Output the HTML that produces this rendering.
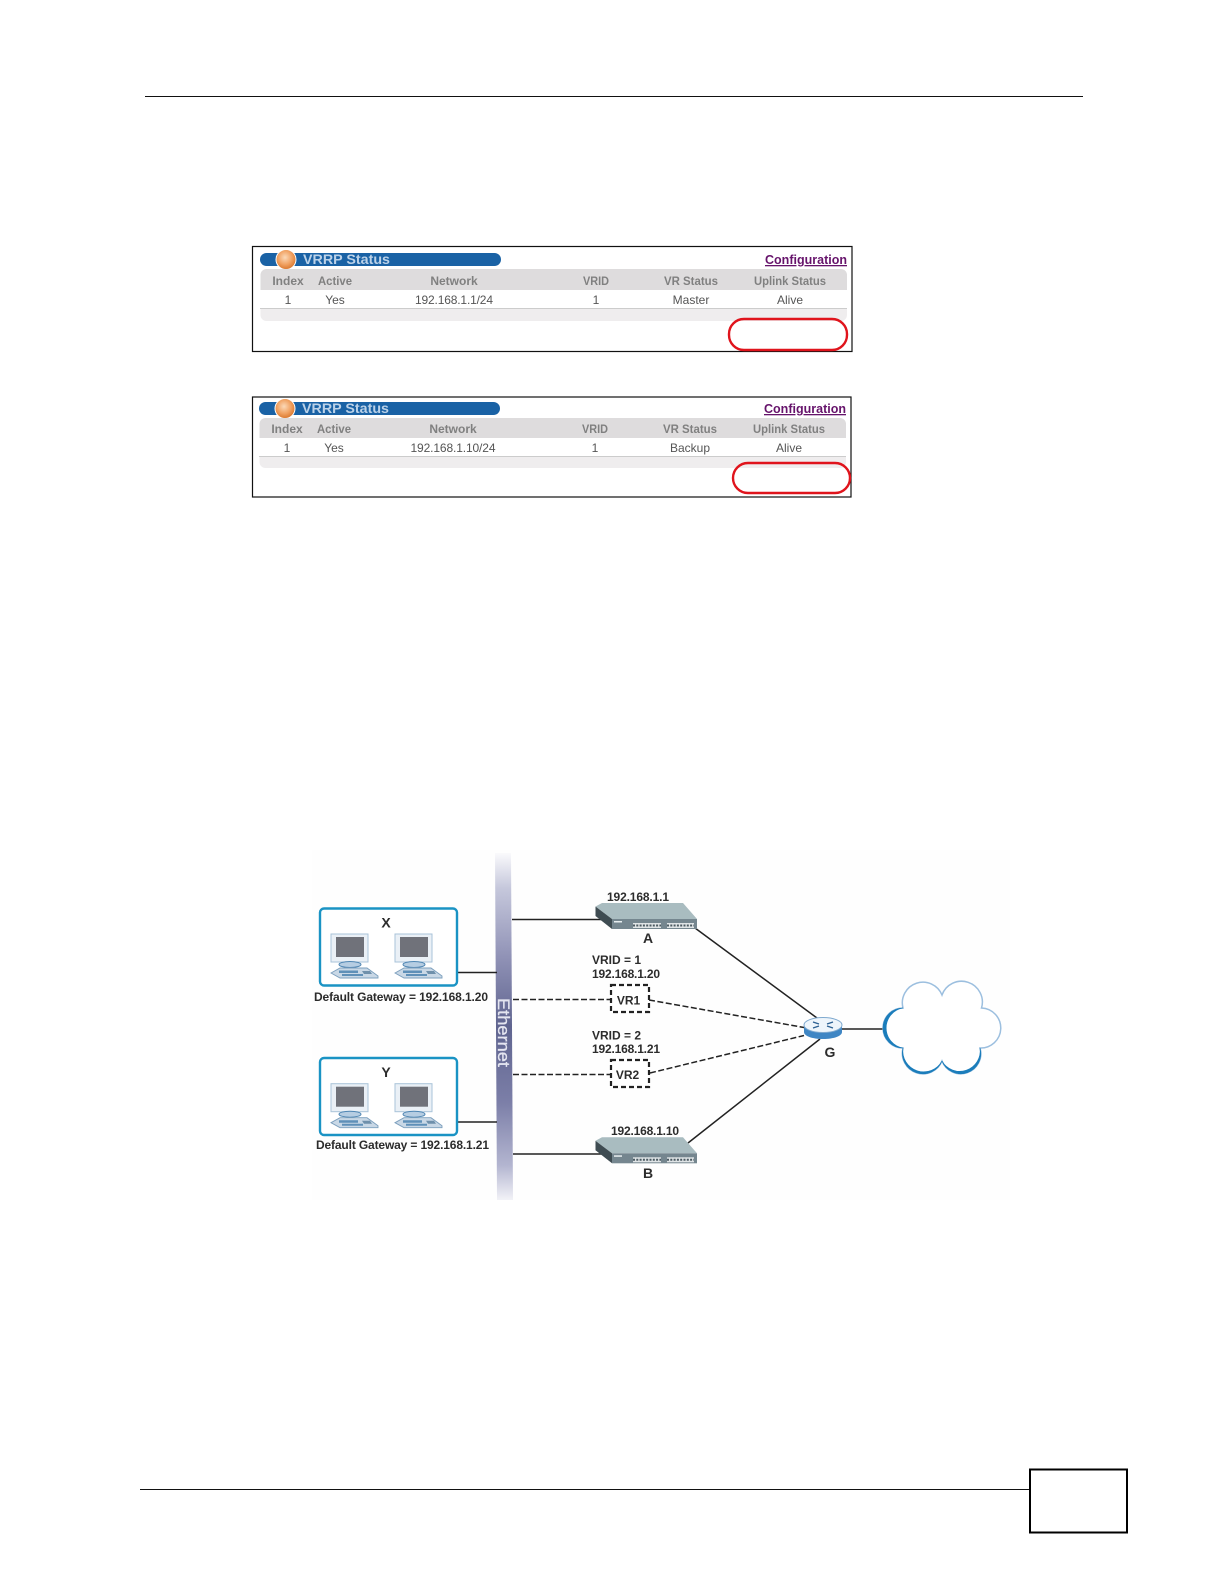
<!DOCTYPE html>
<html><head><meta charset="utf-8"><style>
html,body{margin:0;padding:0;background:#fff}
svg{display:block}
text{font-family:"Liberation Sans",sans-serif}
.h{font-size:12px;font-weight:bold;fill:#808080;text-anchor:middle}
.r{font-size:12px;fill:#555;text-anchor:middle}
.t{font-size:14px;font-weight:bold;fill:#bcd2e8}
.c{font-size:13px;font-weight:bold;fill:#66136b;text-decoration:underline}
.l{font-size:12px;font-weight:bold;fill:#2c2c2c}
.m{font-size:14px;font-weight:bold;fill:#2c2c2c;text-anchor:middle}
</style></head><body>
<svg xmlns="http://www.w3.org/2000/svg" width="1224" height="1584" viewBox="0 0 1224 1584">
<defs>
<radialGradient id="orb" cx="45%" cy="40%" r="60%"><stop offset="0" stop-color="#fbd9b8"/><stop offset=".6" stop-color="#f0a060"/><stop offset="1" stop-color="#d9772e"/></radialGradient>
<linearGradient id="bar" x1="0" y1="0" x2="0" y2="1">
<stop offset="0" stop-color="#fafafc"/><stop offset=".1" stop-color="#c6c8dc"/><stop offset=".3" stop-color="#9092b6"/><stop offset=".5" stop-color="#5f648f"/><stop offset=".72" stop-color="#7c7fa8"/><stop offset=".9" stop-color="#b3b5d0"/><stop offset="1" stop-color="#f2f2f7"/></linearGradient>
<g id="pc">
<rect x="331" y="934" width="37" height="28" fill="#eaf0f6" stroke="#a9c3d9" stroke-width="1"/>
<rect x="336" y="937" width="28" height="20" fill="#70727a"/>
<path d="M340 962h20v3h-20z" fill="#dfe7ef"/>
<ellipse cx="350" cy="964.500" rx="11" ry="3" fill="#b6cde2" stroke="#4f86b3" stroke-width="1"/>
<path d="M331 973l9-5h27l11 8v2h-38z" fill="#c9d8e6" stroke="#7c9fbd" stroke-width=".9"/>
<path d="M339 970.500h19v2.500h-19zM342 974h21v2h-21z" fill="#5f90b8"/>
<path d="M362 971h8l2 3h-8z" fill="#6f90ab"/>
</g>
<g id="sw">
<path d="M595.500 906.500L602 903H683L697 919H612Z" fill="#a9bcc0"/>
<path d="M595.500 906.500L612 919V929L595.500 916Z" fill="#3f4c52"/>
<rect x="612" y="919" width="85" height="10" fill="#75868f"/>
<rect x="614" y="921" width="8" height="1.500" fill="#e8eef0"/>
<rect x="633" y="923" width="28" height="5" fill="#dfe4e6"/>
<rect x="667" y="923" width="27" height="5" fill="#dfe4e6"/>
<path d="M633 925.500h28M667 925.500h27" stroke="#4c5a62" stroke-width="2" stroke-dasharray="2 1.300"/>
</g>
</defs>
<rect width="1224" height="1584" fill="#fff"/>
<rect x="145" y="96" width="938" height="1" fill="#111"/>
<rect x="140" y="1489" width="889" height="1" fill="#111"/>
<rect x="1030" y="1469.500" width="97" height="63" fill="#fff" stroke="#000" stroke-width="2"/>

<rect x="252.500" y="246.500" width="599.500" height="105" fill="#fff" stroke="#111" stroke-width="1.200"/>
<rect x="260" y="253" width="241" height="13" rx="6.500" fill="#1a62a5"/>
<circle cx="286" cy="259.500" r="10" fill="url(#orb)" stroke="#fff" stroke-width="1"/>
<text x="303" y="264" class="t" textLength="87" lengthAdjust="spacingAndGlyphs">VRRP Status</text>
<text x="765" y="264" class="c" textLength="82" lengthAdjust="spacingAndGlyphs">Configuration</text>
<path d="M260.500 290V275a6 6 0 0 1 6-6H841a6 6 0 0 1 6 6V290Z" fill="#dedcdd"/>
<path d="M260.500 309H847V315a6 6 0 0 1-6 6H266.500a6 6 0 0 1-6-6Z" fill="#efedee"/>
<path d="M260.500 308.500H847" stroke="#999" stroke-dasharray="1 1" stroke-width="1"/>
<text x="288" y="285" class="h">Index</text><text x="335" y="285" class="h" textLength="34" lengthAdjust="spacingAndGlyphs">Active</text><text x="454" y="285" class="h">Network</text><text x="596" y="285" class="h" textLength="26" lengthAdjust="spacingAndGlyphs">VRID</text><text x="691" y="285" class="h" textLength="54" lengthAdjust="spacingAndGlyphs">VR Status</text><text x="790" y="285" class="h" textLength="72" lengthAdjust="spacingAndGlyphs">Uplink Status</text>
<text x="288" y="304" class="r">1</text><text x="335" y="304" class="r">Yes</text><text x="454" y="304" class="r" textLength="78">192.168.1.1/24</text><text x="596" y="304" class="r">1</text><text x="691" y="304" class="r">Master</text><text x="790" y="304" class="r">Alive</text>
<rect x="729" y="319" width="118" height="31" rx="15" fill="none" stroke="#e0141c" stroke-width="2.400"/>

<rect x="252.500" y="397" width="598.500" height="100" fill="#fff" stroke="#111" stroke-width="1.200"/>
<rect x="259" y="402" width="241" height="13" rx="6.500" fill="#1a62a5"/>
<circle cx="285" cy="408.500" r="10" fill="url(#orb)" stroke="#fff" stroke-width="1"/>
<text x="302" y="413" class="t" textLength="87" lengthAdjust="spacingAndGlyphs">VRRP Status</text>
<text x="764" y="413" class="c" textLength="82" lengthAdjust="spacingAndGlyphs">Configuration</text>
<path d="M259.500 438V424a6 6 0 0 1 6-6H840a6 6 0 0 1 6 6V438Z" fill="#dedcdd"/>
<path d="M259.500 457H846V462a6 6 0 0 1-6 6H265.500a6 6 0 0 1-6-6Z" fill="#efedee"/>
<path d="M259.500 456.500H846" stroke="#999" stroke-dasharray="1 1" stroke-width="1"/>
<text x="287" y="433" class="h">Index</text><text x="334" y="433" class="h" textLength="34" lengthAdjust="spacingAndGlyphs">Active</text><text x="453" y="433" class="h">Network</text><text x="595" y="433" class="h" textLength="26" lengthAdjust="spacingAndGlyphs">VRID</text><text x="690" y="433" class="h" textLength="54" lengthAdjust="spacingAndGlyphs">VR Status</text><text x="789" y="433" class="h" textLength="72" lengthAdjust="spacingAndGlyphs">Uplink Status</text>
<text x="287" y="452" class="r">1</text><text x="334" y="452" class="r">Yes</text><text x="453" y="452" class="r" textLength="85">192.168.1.10/24</text><text x="595" y="452" class="r">1</text><text x="690" y="452" class="r">Backup</text><text x="789" y="452" class="r">Alive</text>
<rect x="733" y="463" width="117" height="30" rx="15" fill="none" stroke="#e0141c" stroke-width="2.400"/>

<rect x="312" y="850" width="698" height="350" fill="#fefefe"/>
<path d="M495 853H511L513 1200H497Z" fill="url(#bar)"/>
<text transform="translate(498,998) rotate(90)" font-size="17" fill="#e4e5f0" stroke="#e4e5f0" stroke-width=".3" textLength="69" lengthAdjust="spacingAndGlyphs">Ethernet</text>

<g fill="none" stroke="#222" stroke-width="1.500">
<path d="M512 919.500H602M513 1154H602M457 972.500H497M457 1122H497M695 928L817 1018M688 1143L820 1039M842 1029H885"/>
</g>
<g fill="none" stroke="#222" stroke-width="1.500" stroke-dasharray="6 2.500">
<path d="M513 999.500H610M513 1074.500H610M649 1000L804 1027.500M650 1073L804 1035.500"/>
</g>

<rect x="320" y="908.500" width="137" height="77" rx="4" fill="#fff" stroke="#1a93c4" stroke-width="2.400"/>
<rect x="320" y="1058" width="137" height="77" rx="4" fill="#fff" stroke="#1a93c4" stroke-width="2.400"/>
<use href="#pc"/><use href="#pc" transform="translate(64,0)"/>
<use href="#pc" transform="translate(0,149.700)"/><use href="#pc" transform="translate(64,149.700)"/>
<text x="386" y="927.500" class="m">X</text>
<text x="386" y="1077" class="m">Y</text>
<text x="314" y="1001" class="l" textLength="174">Default Gateway = 192.168.1.20</text>
<text x="316" y="1149" class="l" textLength="173">Default Gateway = 192.168.1.21</text>

<use href="#sw"/><use href="#sw" transform="translate(0,234.300)"/>
<text x="607" y="901" class="l" textLength="62">192.168.1.1</text>
<text x="648" y="943" class="m">A</text>
<text x="611" y="1135" class="l" textLength="68">192.168.1.10</text>
<text x="648" y="1178" class="m">B</text>

<text x="592" y="964" class="l">VRID = 1</text>
<text x="592" y="978" class="l" textLength="68">192.168.1.20</text>
<text x="592" y="1039.500" class="l">VRID = 2</text>
<text x="592" y="1053" class="l" textLength="68">192.168.1.21</text>
<rect x="611" y="985" width="38" height="27" fill="#fff" stroke="#222" stroke-width="2.200" stroke-dasharray="5 3"/>
<rect x="611" y="1060" width="38" height="27" fill="#fff" stroke="#222" stroke-width="2.200" stroke-dasharray="5 3"/>
<text x="628.500" y="1004.500" class="l" style="text-anchor:middle">VR1</text>
<text x="627.500" y="1079" class="l" style="text-anchor:middle">VR2</text>

<path d="M804 1025V1032C804 1036 812 1039 823 1039S842 1036 842 1032V1025Z" fill="#3f86c4"/>
<ellipse cx="823" cy="1025" rx="19" ry="7.500" fill="#eef5fb" stroke="#7fa9cf" stroke-width="1"/>
<path d="M813 1022l6 2M813 1028l6-2M833 1022l-6 2M833 1028l-6-2" stroke="#2b5f92" stroke-width="1.300"/>
<text x="830" y="1057" class="m">G</text>

<path d="M942 995A20.800 20.800 0 0 1 981.500 1008A20 20 0 0 1 980 1048A20.100 20.100 0 0 1 942 1061A20.600 20.600 0 0 1 903 1048A20 20 0 0 1 903 1008A20.600 20.600 0 0 1 942 995Z" fill="#fff" stroke="#9cbfdf" stroke-width="1.500"/>
<path d="M903 1008A20 20 0 0 0 903 1048A20.300 20.300 0 0 1 903 1008Z" fill="#1b7dbb" stroke="#1b7dbb" stroke-width=".6"/>
<path d="M903 1048A20.600 20.600 0 0 0 942 1061A20.900 20.900 0 0 1 903 1048Z" fill="#1b7dbb" stroke="#1b7dbb" stroke-width=".6"/>
<path d="M942 1061A20.100 20.100 0 0 0 980 1048A20.450 20.450 0 0 1 942 1061Z" fill="#1b7dbb" stroke="#1b7dbb" stroke-width=".6"/>
</svg>
</body></html>
